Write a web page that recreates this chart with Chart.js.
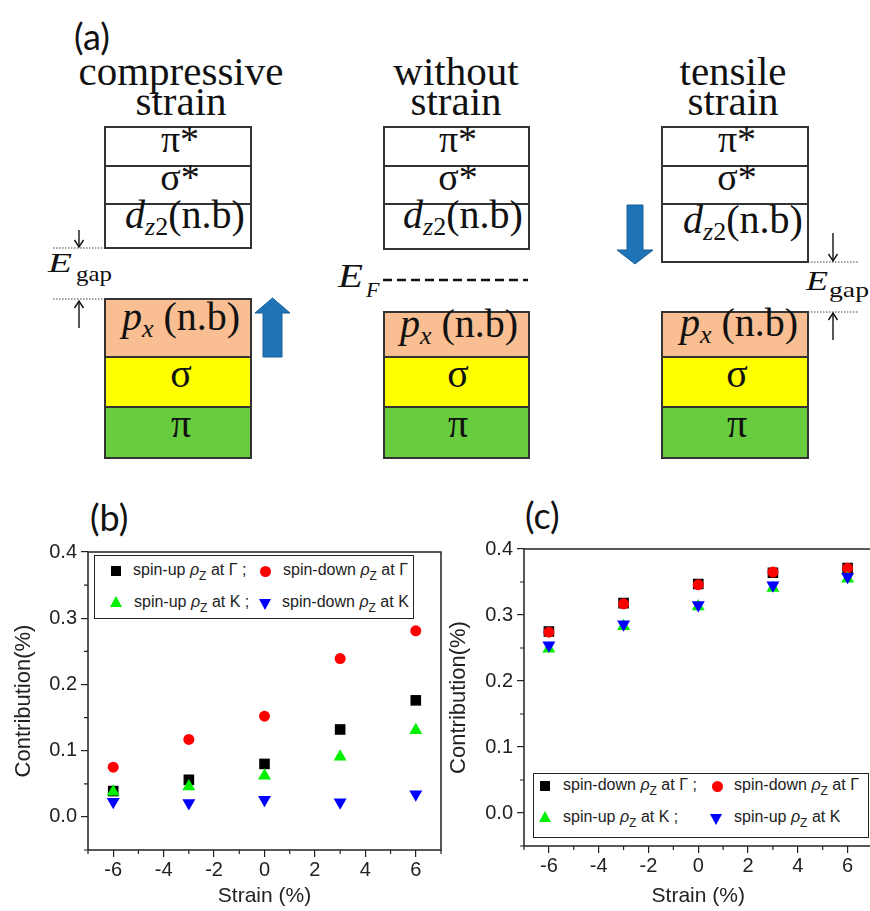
<!DOCTYPE html>
<html><head><meta charset="utf-8">
<script src="https://cdn.jsdelivr.net/npm/chart.js@4.4.1/dist/chart.umd.min.js"></script>
<style>
html,body{margin:0;padding:0;background:#fff;width:870px;height:911px;overflow:hidden;}
#wrap{position:relative;width:870px;height:911px;overflow:hidden;background:#fff;}
.plabel{position:absolute;font-family:Lato,'Open Sans',sans-serif;font-size:36px;color:#111;line-height:36px;}
.legend{position:absolute;border:1.5px solid #222;background:#fff;box-sizing:border-box;}
.lrow{position:absolute;font-family:'Liberation Sans',Arial,sans-serif;font-size:16px;color:#222;white-space:nowrap;line-height:16px;}
.lrow .sb{font-size:12px;position:relative;top:5px;}
.mk{position:absolute;width:0;height:0;}
</style></head>
<body><div id="wrap">
<svg id="diag" width="870" height="470" style="position:absolute;left:0;top:0" fill="#111">
  <g font-family="Liberation Serif">
  <text x="181" y="85" text-anchor="middle" font-size="41" font-family="Liberation Serif">compressive</text>
  <text x="181" y="115" text-anchor="middle" font-size="41" font-family="Liberation Serif">strain</text>
  <text x="456" y="85" text-anchor="middle" font-size="41" font-family="Liberation Serif">without</text>
  <text x="456" y="115" text-anchor="middle" font-size="41" font-family="Liberation Serif">strain</text>
  <text x="733" y="85" text-anchor="middle" font-size="41" font-family="Liberation Serif">tensile</text>
  <text x="733" y="115" text-anchor="middle" font-size="41" font-family="Liberation Serif">strain</text>

  <g stroke="#333" stroke-width="2">
    <rect x="105" y="127" width="146" height="121" fill="#fff"/>
    <line x1="105" y1="166" x2="251" y2="166"/><line x1="105" y1="204" x2="251" y2="204"/>
    <rect x="105" y="299" width="146" height="58" fill="#F9BE91"/>
    <rect x="105" y="357" width="146" height="50" fill="#FFFF00"/>
    <rect x="105" y="407" width="146" height="51" fill="#68CD3E"/>

    <rect x="384" y="127" width="145" height="122" fill="#fff"/>
    <line x1="384" y1="166" x2="529" y2="166"/><line x1="384" y1="204" x2="529" y2="204"/>
    <rect x="384" y="312" width="145" height="45" fill="#F9BE91"/>
    <rect x="384" y="357" width="145" height="50" fill="#FFFF00"/>
    <rect x="384" y="407" width="145" height="51" fill="#68CD3E"/>

    <rect x="662" y="127" width="146" height="135" fill="#fff"/>
    <line x1="662" y1="166" x2="808" y2="166"/><line x1="662" y1="204" x2="808" y2="204"/>
    <rect x="662" y="312" width="146" height="45" fill="#F9BE91"/>
    <rect x="662" y="357" width="146" height="50" fill="#FFFF00"/>
    <rect x="662" y="407" width="146" height="51" fill="#68CD3E"/>
  </g>

  <g font-size="38">
    <text x="180" y="152" text-anchor="middle" font-family="Liberation Serif">π*</text>
    <text x="180" y="190" text-anchor="middle" font-family="Liberation Serif">σ*</text>
    <text x="458" y="152" text-anchor="middle" font-family="Liberation Serif">π*</text>
    <text x="458" y="190" text-anchor="middle" font-family="Liberation Serif">σ*</text>
    <text x="737" y="152" text-anchor="middle" font-family="Liberation Serif">π*</text>
    <text x="737" y="190" text-anchor="middle" font-family="Liberation Serif">σ*</text>
  </g>
  <g font-size="40">
    <text x="125" y="228" font-family="Liberation Serif"><tspan font-style="italic">d</tspan><tspan font-size="26" dy="7" font-style="italic">z</tspan><tspan font-size="26">2</tspan><tspan dy="-7">(n.b)</tspan></text>
    <text x="403" y="228" font-family="Liberation Serif"><tspan font-style="italic">d</tspan><tspan font-size="26" dy="7" font-style="italic">z</tspan><tspan font-size="26">2</tspan><tspan dy="-7">(n.b)</tspan></text>
    <text x="683" y="233" font-family="Liberation Serif"><tspan font-style="italic">d</tspan><tspan font-size="26" dy="7" font-style="italic">z</tspan><tspan font-size="26">2</tspan><tspan dy="-7">(n.b)</tspan></text>

    <text x="122" y="330" font-family="Liberation Serif"><tspan font-style="italic">p</tspan><tspan font-size="26" dy="7" font-style="italic">x</tspan><tspan dy="-7"> (n.b)</tspan></text>
    <text x="400" y="337" font-family="Liberation Serif"><tspan font-style="italic">p</tspan><tspan font-size="26" dy="7" font-style="italic">x</tspan><tspan dy="-7"> (n.b)</tspan></text>
    <text x="680" y="336" font-family="Liberation Serif"><tspan font-style="italic">p</tspan><tspan font-size="26" dy="7" font-style="italic">x</tspan><tspan dy="-7"> (n.b)</tspan></text>

    <text x="181" y="387" text-anchor="middle" font-family="Liberation Serif">σ</text>
    <text x="181" y="437" text-anchor="middle" font-family="Liberation Serif">π</text>
    <text x="458" y="387" text-anchor="middle" font-family="Liberation Serif">σ</text>
    <text x="458" y="437" text-anchor="middle" font-family="Liberation Serif">π</text>
    <text x="737" y="387" text-anchor="middle" font-family="Liberation Serif">σ</text>
    <text x="737" y="437" text-anchor="middle" font-family="Liberation Serif">π</text>
  </g>

  <text x="338" y="287" font-size="33" font-style="italic" font-family="Liberation Serif" textLength="25" lengthAdjust="spacingAndGlyphs">E</text>
  <text x="366" y="297" font-size="22" font-style="italic" font-family="Liberation Serif">F</text>
  <line x1="383" y1="280" x2="528" y2="280" stroke="#111" stroke-width="2.5" stroke-dasharray="9,5"/>

  <g stroke="#444" stroke-width="1.2" stroke-dasharray="1.5,1.5">
    <line x1="53" y1="248" x2="105" y2="248"/><line x1="53" y1="299" x2="105" y2="299"/>
    <line x1="808" y1="262" x2="858" y2="262"/><line x1="808" y1="312" x2="858" y2="312"/>
  </g>
  <g stroke="#111" stroke-width="1.4" fill="none">
    <line x1="79" y1="230" x2="79" y2="247"/><polyline points="74.5,240 79,247 83.5,240"/>
    <line x1="79" y1="301" x2="79" y2="328"/><polyline points="74.5,308 79,301 83.5,308"/>
    <line x1="833" y1="233" x2="833" y2="261"/><polyline points="828.5,254 833,261 837.5,254"/>
    <line x1="833" y1="313" x2="833" y2="340"/><polyline points="828.5,320 833,313 837.5,320"/>
  </g>
  <text x="48" y="272" font-size="27" font-style="italic" font-family="Liberation Serif" textLength="24" lengthAdjust="spacingAndGlyphs">E</text>
  <text x="76" y="281" font-size="22" font-family="Liberation Serif" textLength="36" lengthAdjust="spacingAndGlyphs">gap</text>
  <text x="806" y="290" font-size="28" font-style="italic" font-family="Liberation Serif" textLength="22" lengthAdjust="spacingAndGlyphs">E</text>
  <text x="829" y="297" font-size="22" font-family="Liberation Serif" textLength="40" lengthAdjust="spacingAndGlyphs">gap</text>
  </g>

  <polygon points="272.5,298 290,313 282,313 282,357 263,357 263,313 255,313" fill="#1F73B7" stroke="#1A5F96" stroke-width="1"/>
  <polygon points="627,205 643,205 643,250 653,250 635,264 617,250 627,250" fill="#1F73B7" stroke="#1A5F96" stroke-width="1"/>
</svg>

<div class="plabel" style="left:74px;top:18px">(a)</div>
<div class="plabel" style="left:90px;top:499px">(b)</div>
<div class="plabel" style="left:525px;top:497px">(c)</div>

<canvas id="cb" width="450" height="375" style="position:absolute;left:0;top:536px"></canvas>
<canvas id="cc" width="445" height="378" style="position:absolute;left:435px;top:533px"></canvas>

<div class="legend" id="legB" style="left:94px;top:555px;width:320px;height:64px"></div>
<div class="legend" id="legC" style="left:533px;top:773px;width:336px;height:65px"></div>
</div>

<script>
// ---------------- data ----------------
const strain = [-6, -3, 0, 3, 6];

// panel (b)
const bSpinUpGamma   = [0.039, 0.056, 0.080, 0.132, 0.176];
const bSpinDownGamma = [0.075, 0.117, 0.152, 0.239, 0.281];
const bSpinUpK       = [0.038, 0.046, 0.062, 0.091, 0.131];
const bSpinDownK     = [0.023, 0.021, 0.026, 0.022, 0.034];

// panel (c)
const cBlackGamma = [0.275, 0.318, 0.347, 0.364, 0.371];
const cRedGamma   = [0.274, 0.317, 0.346, 0.365, 0.371];
const cGreenK     = [0.249, 0.283, 0.313, 0.341, 0.355];
const cBlueK      = [0.254, 0.286, 0.315, 0.345, 0.358];

// axes
const xTickVals  = [-6, -4, -2, 0, 2, 4, 6];
const xMinorVals = [-7, -5, -3, -1, 1, 3, 5, 7];
const yTickVals  = [0, 0.1, 0.2, 0.3, 0.4];
const yMinorVals = [-0.05, 0.05, 0.15, 0.25, 0.35];
const xTitle = 'Strain (%)';
const yTitle = 'Contribution(%)';

// legend labels [before ρ, after ρZ]
const bLegendLabels = [['spin-up ', ' at Γ ;'], ['spin-down ', ' at Γ'], ['spin-up ', ' at K ;'], ['spin-down ', ' at K']];
const cLegendLabels = [['spin-down ', ' at Γ ;'], ['spin-down ', ' at Γ'], ['spin-up ', ' at K ;'], ['spin-up ', ' at K']];

// ---------------- charts ----------------
function pts(ys) { return strain.map((x, i) => ({x: x, y: ys[i]})); }

const framePlugin = {
  id: 'frame',
  afterDraw(chart) {
    const {ctx, chartArea: a, scales: {x, y}} = chart;
    ctx.save();
    ctx.strokeStyle = '#222';
    ctx.lineWidth = 1.5;
    ctx.strokeRect(a.left, a.top, a.right - a.left, a.bottom - a.top);
    ctx.lineWidth = 1.2;
    ctx.beginPath();
    xMinorVals.forEach(v => { const p = x.getPixelForValue(v); ctx.moveTo(p, a.bottom); ctx.lineTo(p, a.bottom + 4); });
    yMinorVals.forEach(v => { const p = y.getPixelForValue(v); ctx.moveTo(a.left, p); ctx.lineTo(a.left - 4, p); });
    ctx.stroke();
    ctx.restore();
  }
};

function ds(ys, style, color, r, rot) {
  return {data: pts(ys), pointStyle: style, pointRadius: r, pointHoverRadius: r,
          pointRotation: rot || 0, backgroundColor: color, borderColor: color, borderWidth: 0};
}

function makeChart(id, sets, o) {
  const font = {family: "'Liberation Sans', Arial, sans-serif", size: 20};
  return new Chart(document.getElementById(id), {
    type: 'scatter',
    data: {datasets: sets},
    options: {
      responsive: false, animation: false, devicePixelRatio: 1,
      layout: {padding: {top: 0, right: o.pr, left: 0, bottom: 0}},
      plugins: {legend: {display: false}, tooltip: {enabled: false}},
      scales: {
        x: {
          type: 'linear', min: -7, max: 7,
          afterBuildTicks: s => { s.ticks = xTickVals.map(v => ({value: v})); },
          afterFit: s => { s.height = o.xh; },
          grid: {drawOnChartArea: false, drawTicks: true, tickLength: 7, color: '#222', lineWidth: 1.2},
          border: {display: false},
          ticks: {font: font, color: '#222', padding: 1, maxRotation: 0, callback: v => String(v)},
          title: {display: true, text: xTitle, color: '#222', font: {family: font.family, size: 21}, padding: {top: 0, bottom: 2}}
        },
        y: {
          type: 'linear', min: -0.05, max: 0.4,
          afterBuildTicks: s => { s.ticks = yTickVals.map(v => ({value: v})); },
          afterFit: s => { s.width = o.yw; },
          grid: {drawOnChartArea: false, drawTicks: true, tickLength: 7, color: '#222', lineWidth: 1.2},
          border: {display: false},
          ticks: {font: font, color: '#222', padding: 4, callback: v => Number(v).toFixed(1)},
          title: {display: true, text: yTitle, color: '#222', font: {family: font.family, size: 22}, padding: {top: 11, bottom: 0}}
        }
      }
    },
    plugins: [framePlugin]
  });
}

// dataset 0 is drawn on top
makeChart('cb', [
  ds(bSpinDownK, 'triangle', '#0000FF', 7.5, 180),
  ds(bSpinUpK, 'triangle', '#00F000', 7.5),
  ds(bSpinDownGamma, 'circle', '#FF0000', 5.5),
  ds(bSpinUpGamma, 'rect', '#000000', 7.5)
], {pr: 9, xh: 61, yw: 88});

makeChart('cc', [
  ds(cBlueK, 'triangle', '#0000FF', 7.5, 180),
  ds(cGreenK, 'triangle', '#00F000', 7.5),
  ds(cRedGamma, 'circle', '#FF0000', 5.5),
  ds(cBlackGamma, 'rect', '#000000', 7.5)
], {pr: 7, xh: 65, yw: 89});

// ---------------- legends (HTML) ----------------
function marker(type, color) {
  const m = document.createElement('div');
  m.className = 'mk';
  if (type === 'rect') { m.style.width = '10px'; m.style.height = '10px'; m.style.background = color; m.style.marginLeft = '-5px'; m.style.marginTop = '-5px'; }
  else if (type === 'circle') { m.style.width = '11px'; m.style.height = '11px'; m.style.borderRadius = '50%'; m.style.background = color; m.style.marginLeft = '-5.5px'; m.style.marginTop = '-5.5px'; }
  else if (type === 'up') { m.style.borderLeft = '6.5px solid transparent'; m.style.borderRight = '6.5px solid transparent'; m.style.borderBottom = '11px solid ' + color; m.style.marginLeft = '-6.5px'; m.style.marginTop = '-7px'; }
  else { m.style.borderLeft = '6.5px solid transparent'; m.style.borderRight = '6.5px solid transparent'; m.style.borderTop = '11px solid ' + color; m.style.marginLeft = '-6.5px'; m.style.marginTop = '-4px'; }
  return m;
}
function buildLegend(boxId, labels, layout) {
  const box = document.getElementById(boxId);
  const types = [['rect', '#000'], ['circle', '#FF0000'], ['up', '#00F000'], ['down', '#0000FF']];
  labels.forEach((lab, i) => {
    const L = layout[i];
    const m = marker(types[i][0], types[i][1]);
    m.style.left = L.mx + 'px'; m.style.top = L.cy + 'px';
    box.appendChild(m);
    const t = document.createElement('div');
    t.className = 'lrow';
    t.style.left = L.tx + 'px'; t.style.top = (L.cy - 9) + 'px';
    t.innerHTML = lab[0] + '<i>ρ</i><span class="sb">Z</span>' + lab[1];
    box.appendChild(t);
  });
}
buildLegend('legB', bLegendLabels, [
  {mx: 21, tx: 38, cy: 15}, {mx: 170, tx: 188, cy: 15},
  {mx: 21, tx: 39, cy: 47}, {mx: 170, tx: 187, cy: 47}
]);
buildLegend('legC', cLegendLabels, [
  {mx: 11, tx: 29, cy: 12}, {mx: 183, tx: 200, cy: 12},
  {mx: 11, tx: 29, cy: 44}, {mx: 182, tx: 200, cy: 44}
]);
</script>
</body></html>
